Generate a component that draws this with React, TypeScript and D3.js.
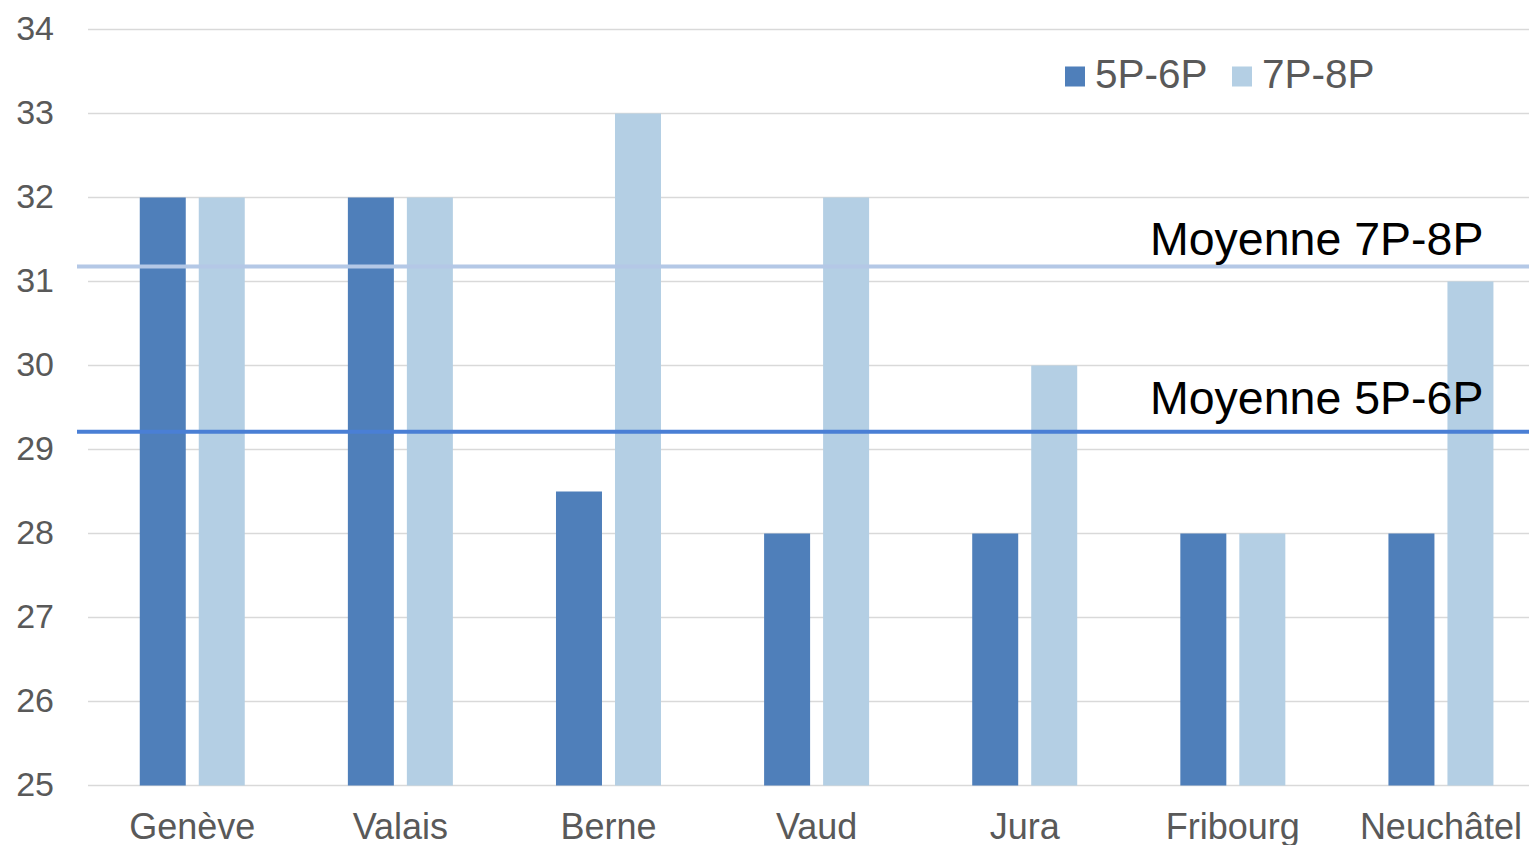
import React from "react";
import * as d3 from "d3";

const categories = ["Genève", "Valais", "Berne", "Vaud", "Jura", "Fribourg", "Neuchâtel"];
const seriesNames = ["5P-6P", "7P-8P"];
const values5P6P = [32, 32, 28.5, 28, 28, 28, 28];
const values7P8P = [32, 32, 33, 32, 30, 28, 31];
const averageValues = [29.21, 31.18];
const averageLabels = ["Moyenne 5P-6P", "Moyenne 7P-8P"];
const yTicks = [25, 26, 27, 28, 29, 30, 31, 32, 33, 34];

const W = 1529;
const H = 845;
const colors = ["#4F7FBA", "#B4CFE4"];
const lineColors = ["#4A7FD5", "#B4C8E6"];
const FONT = "'Liberation Sans', Arial, Helvetica, sans-serif";

export default function App() {
  const y = d3.scaleLinear().domain([25, 34]).range([785.5, 29.5]);
  const x = d3.scaleBand<string>().domain(categories).range([88.2, 1545]).padding(0);
  const barW = 46;
  const gap = 13;
  const groupW = barW * 2 + gap;
  const inner = d3
    .scaleBand<string>()
    .domain(seriesNames)
    .range([0, groupW])
    .paddingInner(gap / (barW + gap))
    .paddingOuter(0);
  const series = [values5P6P, values7P8P];
  const labelOffsets = [18, 11];

  return (
    <svg
      width={W}
      height={H}
      style={{ position: "absolute", left: 0, top: 0, background: "#fff" }}
      fontFamily={FONT}
    >
      {yTicks.map((t) => (
        <g key={t}>
          <line x1={88} x2={W} y1={y(t)} y2={y(t)} stroke="#D9D9D9" strokeWidth={1.5} />
          <text x={54} y={y(t) + 10} textAnchor="end" fontSize={34} fill="#595959">
            {t}
          </text>
        </g>
      ))}
      {categories.map((c, i) => {
        const cx = (x(c) as number) + x.bandwidth() / 2;
        return (
          <g key={c}>
            {series.map((vals, s) => {
              const bx = cx - groupW / 2 + (inner(seriesNames[s]) as number);
              return (
                <rect
                  key={s}
                  x={bx}
                  y={y(vals[i])}
                  width={inner.bandwidth()}
                  height={y(25) - y(vals[i])}
                  fill={colors[s]}
                />
              );
            })}
            <text x={cx} y={839} textAnchor="middle" fontSize={36} fill="#595959">
              {c}
            </text>
          </g>
        );
      })}
      {averageValues.map((v, s) => (
        <g key={s}>
          <line x1={77} x2={W} y1={y(v)} y2={y(v)} stroke={lineColors[s]} strokeWidth={4} />
          <text x={1150} y={y(v) - labelOffsets[s]} fontSize={46.5} fill="#000">
            {averageLabels[s]}
          </text>
        </g>
      ))}
      {seriesNames.map((n, s) => {
        const lx = [1065, 1232][s];
        return (
          <g key={n}>
            <rect x={lx} y={66.5} width={20} height={20} fill={colors[s]} />
            <text x={lx + 30} y={88} fontSize={40.5} fill="#595959">
              {n}
            </text>
          </g>
        );
      })}
    </svg>
  );
}
